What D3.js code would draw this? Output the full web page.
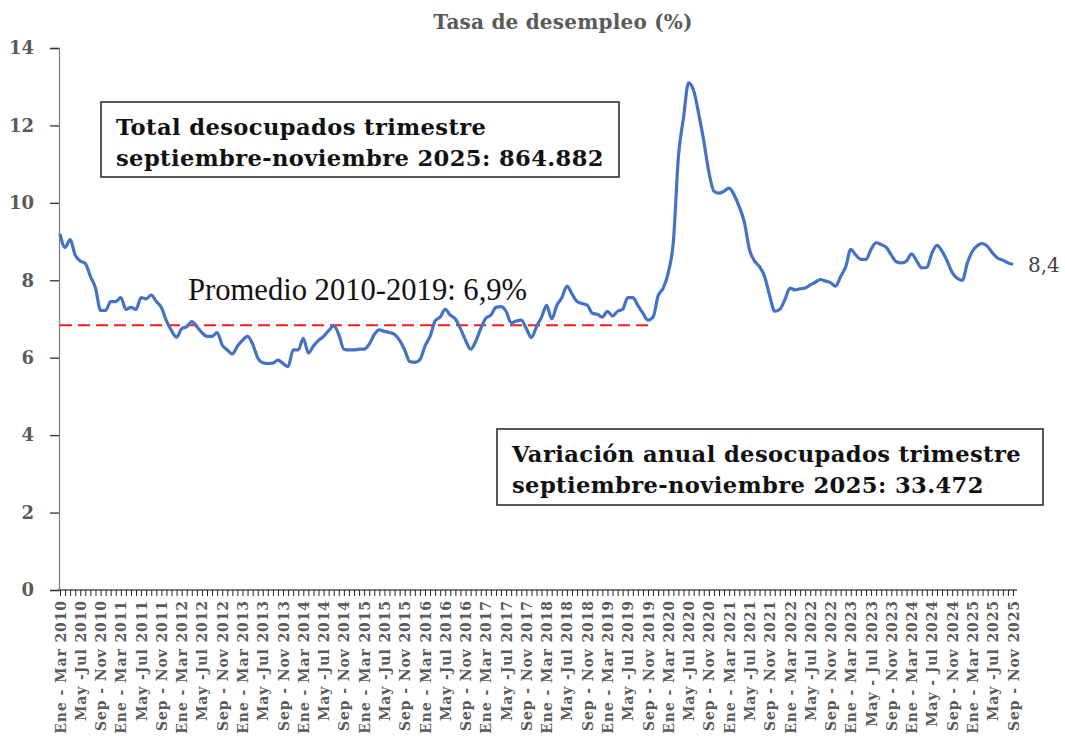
<!DOCTYPE html>
<html>
<head>
<meta charset="utf-8">
<script src="https://cdn.jsdelivr.net/npm/d3@7"></script>
<style>
  body { margin: 0; background: #fff; }
  svg { display: block; }
</style>
</head>
<body>
<script>
        var w = 1065;
        var h = 740;

        // Tasa de desempleo (%), trimestres moviles: Ene-Mar 2010 ... Sep-Nov 2025
        var tasa = [
            9.2, 8.85, 9.05, 8.65, 8.5, 8.43, 8.1, 7.8, 7.22, 7.22, 7.45, 7.45,
            7.55, 7.25, 7.3, 7.25, 7.55, 7.52, 7.62, 7.45, 7.3, 6.95, 6.7, 6.53,
            6.75, 6.8, 6.93, 6.8, 6.65, 6.55, 6.55, 6.65, 6.33, 6.2, 6.1, 6.3,
            6.45, 6.55, 6.35, 6.0, 5.87, 5.85, 5.86, 5.94, 5.85, 5.77, 6.2, 6.2,
            6.5, 6.12, 6.3, 6.45, 6.55, 6.7, 6.82, 6.6, 6.22, 6.2, 6.2, 6.22,
            6.22, 6.35, 6.6, 6.72, 6.68, 6.65, 6.6, 6.45, 6.2, 5.9, 5.88, 5.95,
            6.3, 6.55, 6.95, 7.05, 7.25, 7.1, 7.0, 6.75, 6.45, 6.22, 6.42, 6.75,
            7.02, 7.1, 7.3, 7.32, 7.2, 6.9, 6.95, 6.97, 6.75, 6.52, 6.8, 7.05,
            7.35, 7.0, 7.35, 7.55, 7.85, 7.65, 7.45, 7.4, 7.36, 7.15, 7.12, 7.05,
            7.2, 7.08, 7.2, 7.25, 7.55, 7.55, 7.35, 7.15, 6.97, 7.05, 7.6, 7.8,
            8.2, 9.0, 11.2, 12.2, 13.1, 12.9, 12.3, 11.6, 10.8, 10.3, 10.25, 10.3,
            10.38, 10.2, 9.9, 9.5, 8.8, 8.5, 8.35, 8.1, 7.6, 7.2, 7.25, 7.5,
            7.8, 7.75, 7.78, 7.8, 7.88, 7.95, 8.02, 7.98, 7.94, 7.85, 8.1, 8.35,
            8.8, 8.65, 8.54, 8.54, 8.8, 8.97, 8.92, 8.85, 8.65, 8.48, 8.45, 8.5,
            8.68, 8.5, 8.32, 8.33, 8.7, 8.9, 8.75, 8.5, 8.2, 8.05, 8.0, 8.45,
            8.75, 8.9, 8.95, 8.87, 8.7, 8.57, 8.52, 8.45, 8.41
        ];

        // etiquetas del eje x (una cada 4 trimestres moviles)
        var etiquetas = [];
        var anios = d3.range(2010, 2026);
        anios.forEach(function(a) {
            etiquetas.push("Ene - Mar " + a);
            etiquetas.push((a >= 2023 && a <= 2024 ? "May - Jul " : "May -Jul ") + a);
            etiquetas.push("Sep - Nov " + a);
        });

        var yTicks = [0, 2, 4, 6, 8, 10, 12, 14];
        var promedio = 6.84;        // Promedio 2010-2019
        var finPromedio = 116;      // Sep-Nov 2019
        var ultimo = "8,4";

        var cajas = [
            { x: 101, y: 102, w: 518, h: 75,
              lineas: ["Total desocupados trimestre", "septiembre-noviembre 2025: 864.882"] },
            { x: 497, y: 429, w: 546, h: 76,
              lineas: ["Variación anual desocupados trimestre", "septiembre-noviembre 2025: 33.472"] }
        ];

        var svg = d3.select("body")
                    .append("svg")
                    .attr("width", w)
                    .attr("height", h);

        var xscale = d3.scaleLinear()
                        .domain([0, tasa.length - 1])
                        .range([60, 1013]);

        var yscale = d3.scaleLinear()
                        .domain([0, 14])
                        .range([590, 48]);

        var serif = "'DejaVu Serif', serif";
        var gris = "#5a5a5a";

        // titulo
        svg.append("text")
            .attr("x", 563)
            .attr("y", 29)
            .attr("text-anchor", "middle")
            .style("font-family", serif)
            .style("font-weight", "bold")
            .style("font-size", "20px")
            .style("letter-spacing", "0.2px")
            .attr("fill", gris)
            .text("Tasa de desempleo (%)");

        // eje y
        var yAxis = svg.append("g")
            .attr("transform", "translate(59,0)")
            .call(d3.axisLeft(yscale).tickValues(yTicks).tickSize(9).tickPadding(16).tickFormat(d3.format("d")));
        yAxis.select(".domain").attr("stroke", "#808080").attr("stroke-width", 1.3);
        yAxis.selectAll(".tick line").attr("stroke", "#333").attr("stroke-width", 1.3);
        yAxis.selectAll("text")
            .style("font-family", serif)
            .style("font-weight", "bold")
            .style("font-size", "18px")
            .attr("fill", gris);

        // eje x
        var xAxis = svg.append("g")
            .attr("transform", "translate(0,590)")
            .call(d3.axisBottom(xscale)
                .tickValues(d3.range(tasa.length))
                .tickSize(6)
                .tickSizeOuter(0)
                .tickFormat(function(d) { return d % 4 === 0 ? etiquetas[d / 4] : ""; }));
        xAxis.select(".domain").attr("stroke", "#555").attr("stroke-width", 1.3)
            .attr("d", "M58,0H1017");
        xAxis.selectAll(".tick line").attr("stroke", "#222").attr("stroke-width", 1);
        xAxis.selectAll("text")
            .attr("transform", "rotate(-90)")
            .attr("x", -10)
            .attr("y", 0)
            .attr("dy", "0.36em")
            .style("text-anchor", "end")
            .style("font-family", serif)
            .style("font-weight", "bold")
            .style("font-size", "14px")
            .style("letter-spacing", "0.9px")
            .attr("fill", gris);

        // linea de promedio
        svg.append("line")
            .attr("x1", xscale(0))
            .attr("x2", xscale(finPromedio))
            .attr("y1", yscale(promedio))
            .attr("y2", yscale(promedio))
            .attr("stroke", "#ff1a1a")
            .attr("stroke-width", 2)
            .attr("stroke-dasharray", "12,6");

        svg.append("text")
            .attr("x", 188)
            .attr("y", 300)
            .style("font-family", "'Liberation Serif', serif")
            .style("font-size", "30.6px")
            .attr("fill", "#111")
            .text("Promedio 2010-2019: 6,9%");

        // serie
        var line = d3.line()
            .x(function(d, i) { return xscale(i); })
            .y(function(d) { return yscale(d); })
            .curve(d3.curveMonotoneX);

        svg.append("path")
            .datum(tasa)
            .attr("d", line)
            .attr("fill", "none")
            .attr("stroke", "#4472C4")
            .attr("stroke-width", 3.2)
            .attr("stroke-linejoin", "round");

        svg.append("text")
            .attr("x", xscale(tasa.length - 1) + 15)
            .attr("y", yscale(tasa[tasa.length - 1]) + 8)
            .style("font-family", serif)
            .style("font-size", "20px")
            .attr("fill", "#444")
            .text(ultimo);

        // cajas de texto
        var g = svg.selectAll("g.caja")
                    .data(cajas)
                    .enter()
                    .append("g")
                    .attr("class", "caja");

        g.append("rect")
            .attr("x", function(d) { return d.x; })
            .attr("y", function(d) { return d.y; })
            .attr("width", function(d) { return d.w; })
            .attr("height", function(d) { return d.h; })
            .attr("fill", "#fff")
            .attr("stroke", "#222")
            .attr("stroke-width", 1.5);

        g.each(function(d) {
            d3.select(this).selectAll("text")
                .data(d.lineas)
                .enter()
                .append("text")
                .attr("x", d.x + 15)
                .attr("y", function(t, i) { return d.y + 33 + i * 31; })
                .style("font-family", serif)
                .style("font-weight", "bold")
                .style("font-size", "22.6px")
                .style("letter-spacing", "0.4px")
                .attr("fill", "#111")
                .text(function(t) { return t; });
        });
</script>
</body>
</html>
